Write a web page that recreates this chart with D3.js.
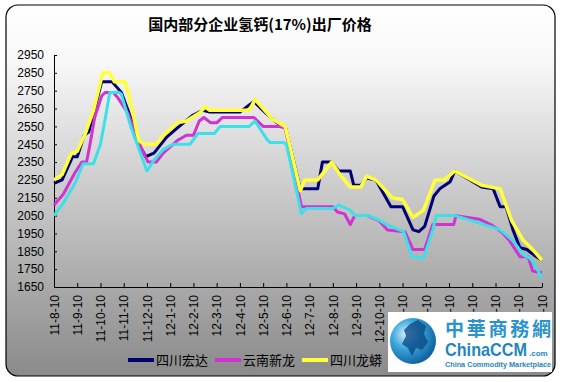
<!DOCTYPE html>
<html lang="zh">
<head>
<meta charset="utf-8"/>
<title>国内部分企业氢钙(17%)出厂价格</title>
<script src="https://d3js.org/d3.v7.min.js"></script>
<style>
  body { margin: 0; background: #fff; }
  svg { display: block; }
  .line { fill: none; stroke-linejoin: round; stroke-linecap: butt; }
  .axis text { font-family: "Liberation Sans", Arial, sans-serif; font-size: 12px; fill: #000; }
  .axis path, .axis line { stroke: #000; }
</style>
</head>
<body>
<div id="chart"></div>
<script>
// ---------------------------------------------
// Data (x = months since 11-8-10, y = price)
// ---------------------------------------------
var xLabels = ["11-8-10", "11-9-10", "11-10-10", "11-11-10", "11-12-10",
  "12-1-10", "12-2-10", "12-3-10", "12-4-10", "12-5-10", "12-6-10", "12-7-10",
  "12-8-10", "12-9-10", "12-10-10", "12-11-10", "12-12-10",
  "13-1-10", "13-2-10", "13-3-10", "13-4-10", "13-5-10"];

var yTicks = [1650, 1750, 1850, 1950, 2050, 2150, 2250, 2350, 2450, 2550, 2650, 2750, 2850, 2950];

var seriesNames = ["四川宏达", "云南新龙", "四川龙蟒"];

var hongda = [[0,2230],[0.35,2250],[0.8,2380],[1.0,2380],[1.3,2500],[1.5,2520],[2.05,2800],[2.5,2800],
  [2.7,2770],[2.9,2740],[3.3,2600],[3.7,2440],[3.95,2380],[4.3,2400],[4.85,2490],[5.3,2540],[5.95,2610],
  [6.4,2640],[6.7,2630],[8.0,2630],[8.6,2690],[9.15,2620],[9.6,2570],[9.95,2550],[10.6,2200],[11.35,2200],
  [11.55,2350],[11.95,2350],[12.25,2300],[12.75,2300],[12.9,2220],[13.2,2220],[13.45,2260],[13.85,2250],
  [14.5,2100],[15.0,2100],[15.45,1970],[15.7,1960],[15.95,1990],[16.35,2160],[16.6,2200],[17.05,2240],
  [17.25,2300],[18.4,2210],[18.9,2200],[19.2,2100],[19.45,2100],[19.75,1970],[20.05,1870],[20.35,1860],
  [20.65,1830],[21,1800]];

var xinlong = [[0,2110],[0.4,2170],[0.9,2290],[1.2,2350],[1.4,2350],[1.55,2450],[1.75,2600],[2.05,2720],
  [2.2,2740],[2.55,2740],[2.75,2710],[3.2,2620],[3.55,2490],[3.85,2400],[4.05,2350],[4.4,2350],[4.7,2400],
  [5.3,2470],[5.7,2500],[6.0,2500],[6.25,2580],[6.45,2600],[6.75,2570],[7.0,2570],[7.25,2600],[8.6,2600],
  [9.0,2550],[9.7,2550],[9.95,2540],[10.65,2100],[10.9,2100],[12.0,2100],[12.2,2070],[12.5,2060],[12.75,2000],
  [12.9,2040],[12.95,2050],[13.5,2050],[14.0,2020],[14.35,1970],[15.1,1960],[15.45,1860],[15.95,1860],
  [16.3,2000],[17.2,2000],[17.3,2050],[18.3,2030],[18.8,2000],[19.25,1960],[19.6,1910],[20.05,1820],
  [20.4,1820],[20.6,1740],[21,1730]];

var longmang = [[0,2250],[0.35,2280],[0.75,2400],[1.0,2410],[1.35,2510],[1.7,2640],[2.1,2850],[2.4,2850],
  [2.6,2800],[3.05,2800],[3.2,2740],[3.65,2470],[3.9,2450],[4.4,2450],[4.7,2500],[5.3,2570],[5.7,2580],
  [6.3,2630],[6.5,2660],[6.7,2640],[8.4,2640],[8.65,2700],[9.0,2650],[9.4,2590],[9.95,2550],[10.6,2190],
  [10.8,2250],[11.35,2250],[11.95,2350],[12.25,2290],[12.75,2210],[13.2,2210],[13.45,2270],[13.85,2250],
  [14.55,2150],[15.0,2140],[15.45,2040],[15.9,2080],[16.4,2250],[16.8,2250],[17.25,2300],[18.4,2220],
  [19.2,2200],[19.7,2020],[20.2,1910],[20.6,1860],[21,1800]];

// fourth series, its legend entry sits under the logo
var fourth = [[0,2050],[0.4,2120],[0.9,2230],[1.25,2340],[1.7,2340],[2.0,2450],[2.2,2590],[2.4,2740],
  [2.8,2740],[2.9,2730],[3.3,2550],[3.55,2460],[4.0,2300],[4.3,2360],[4.7,2420],[5.1,2450],[5.85,2450],
  [6.2,2510],[6.9,2510],[7.15,2550],[8.4,2550],[8.65,2580],[9.15,2480],[9.3,2460],[9.85,2460],[10.0,2450],
  [10.65,2060],[10.85,2090],[12.0,2090],[12.25,2110],[12.75,2080],[12.95,2050],[13.55,2050],[14.05,2020],
  [14.3,2000],[15.05,1960],[15.4,1820],[15.9,1810],[16.3,1970],[16.45,2050],[17.25,2050],[17.75,2030],
  [18.75,1990],[19.2,1970],[19.75,1910],[20.2,1830],[20.5,1810],[20.75,1760],[21,1700]];

// ---------------------------------------------
// Layout
// ---------------------------------------------
var W = 563, H = 382;
var margin = { top: 55, right: 21, bottom: 95, left: 54 };

var svg = d3.select("#chart").append("svg")
  .attr("width", W)
  .attr("height", H);

var defs = svg.append("defs");
var bg = defs.append("linearGradient").attr("id", "bg")
  .attr("x1", 0).attr("y1", 0).attr("x2", 0).attr("y2", 1);
bg.append("stop").attr("offset", "0%").attr("stop-color", "#ffffff");
bg.append("stop").attr("offset", "15%").attr("stop-color", "#f8f8f8");
bg.append("stop").attr("offset", "100%").attr("stop-color", "#8a8a8a");

var globe = defs.append("radialGradient").attr("id", "globe")
  .attr("cx", "35%").attr("cy", "35%").attr("r", "70%");
globe.append("stop").attr("offset", "0%").attr("stop-color", "#d8f0fb");
globe.append("stop").attr("offset", "45%").attr("stop-color", "#3aa6dc");
globe.append("stop").attr("offset", "100%").attr("stop-color", "#0d5f9c");

// frame
svg.append("rect")
  .attr("x", 6).attr("y", 5)
  .attr("width", 549).attr("height", 371)
  .attr("rx", 12).attr("ry", 12)
  .style("fill", "url(#bg)")
  .style("stroke", "#000")
  .style("stroke-width", 1.2);

// title
svg.append("text")
  .attr("x", 260).attr("y", 30)
  .attr("text-anchor", "middle")
  .style("font-family", "'Noto Sans CJK SC', sans-serif")
  .style("font-weight", "bold")
  .style("font-size", "15px")
  .text("国内部分企业氢钙(17%)出厂价格");

// ---------------------------------------------
// Scales and axes
// ---------------------------------------------
var x = d3.scaleLinear()
  .domain([0, xLabels.length - 1])
  .range([margin.left, W - margin.right]);

var y = d3.scaleLinear()
  .domain([yTicks[0], yTicks[yTicks.length - 1]])
  .range([H - margin.bottom, margin.top]);

svg.append("g")
  .attr("class", "axis")
  .attr("transform", "translate(" + margin.left + ",0)")
  .call(d3.axisLeft(y)
    .tickValues(yTicks)
    .tickFormat(d3.format("d"))
    .tickSizeInner(-3)
    .tickSizeOuter(0)
    .tickPadding(10));

var xg = svg.append("g")
  .attr("class", "axis")
  .attr("transform", "translate(0," + (H - margin.bottom) + ")")
  .call(d3.axisBottom(x)
    .tickValues(d3.range(xLabels.length))
    .tickFormat(function(i) { return xLabels[i]; })
    .tickSizeInner(-4)
    .tickSizeOuter(0));

xg.selectAll("text")
  .attr("transform", "rotate(-90)")
  .attr("x", -8)
  .attr("y", 0)
  .attr("dy", ".35em")
  .attr("text-anchor", "end");

// ---------------------------------------------
// Lines
// ---------------------------------------------
var line = d3.line()
  .x(function(d) { return x(d[0]); })
  .y(function(d) { return y(d[1]); });

var series = [
  { data: hongda,   color: "#000070", width: 3 },
  { data: xinlong,  color: "#d232d2", width: 3 },
  { data: longmang, color: "#ffff3c", width: 3.5 },
  { data: fourth,   color: "#3ce0e6", width: 3 }
];

series.forEach(function(s) {
  svg.append("path")
    .datum(s.data)
    .attr("class", "line")
    .style("stroke", s.color)
    .style("stroke-width", s.width)
    .attr("d", line);
});

// ---------------------------------------------
// Legend
// ---------------------------------------------
var legendX = [128, 215, 302];
var legend = svg.append("g");
seriesNames.forEach(function(name, i) {
  var g = legend.append("g").attr("transform", "translate(" + legendX[i] + ",360)");
  g.append("line")
    .attr("x1", 0).attr("x2", 26)
    .style("stroke", series[i].color)
    .style("stroke-width", 4);
  g.append("text")
    .attr("x", 28).attr("dy", ".36em")
    .style("font-family", "'Noto Sans CJK SC', sans-serif")
    .style("font-size", "13px")
    .text(name);
});

// ---------------------------------------------
// Watermark logo
// ---------------------------------------------
var logo = svg.append("g").attr("transform", "translate(388,312)");
logo.append("rect")
  .attr("width", 164).attr("height", 60)
  .style("fill", "#fff");
logo.append("circle")
  .attr("cx", 25).attr("cy", 29).attr("r", 23)
  .style("fill", "url(#globe)");
logo.append("path")
  .attr("d", "M22,12 L30,8 L38,14 L36,22 L40,30 L34,38 L28,36 L24,44 L20,36 L14,32 L18,24 L16,18 Z")
  .style("fill", "#0b4a86")
  .style("opacity", 0.8);
logo.append("text")
  .attr("x", 57).attr("y", 24)
  .attr("textLength", 106)
  .style("font-family", "'Noto Sans CJK TC', sans-serif")
  .style("font-weight", "bold")
  .style("font-size", "19px")
  .style("fill", "#2a93c9")
  .text("中華商務網");
logo.append("text")
  .attr("x", 57).attr("y", 44)
  .attr("textLength", 82)
  .attr("lengthAdjust", "spacingAndGlyphs")
  .style("font-family", "'Liberation Sans', Arial, sans-serif")
  .style("font-weight", "bold")
  .style("font-size", "19px")
  .style("fill", "#1f86bd")
  .text("ChinaCCM");
logo.append("text")
  .attr("x", 141).attr("y", 44)
  .style("font-family", "'Liberation Sans', Arial, sans-serif")
  .style("font-weight", "bold")
  .style("font-size", "8px")
  .style("fill", "#1f86bd")
  .text(".com");
logo.append("text")
  .attr("x", 57).attr("y", 55)
  .attr("textLength", 106)
  .attr("lengthAdjust", "spacingAndGlyphs")
  .style("font-family", "'Liberation Sans', Arial, sans-serif")
  .style("font-weight", "bold")
  .style("font-size", "7.5px")
  .style("fill", "#1f86bd")
  .text("China Commodity Marketplace");
</script>
</body>
</html>
